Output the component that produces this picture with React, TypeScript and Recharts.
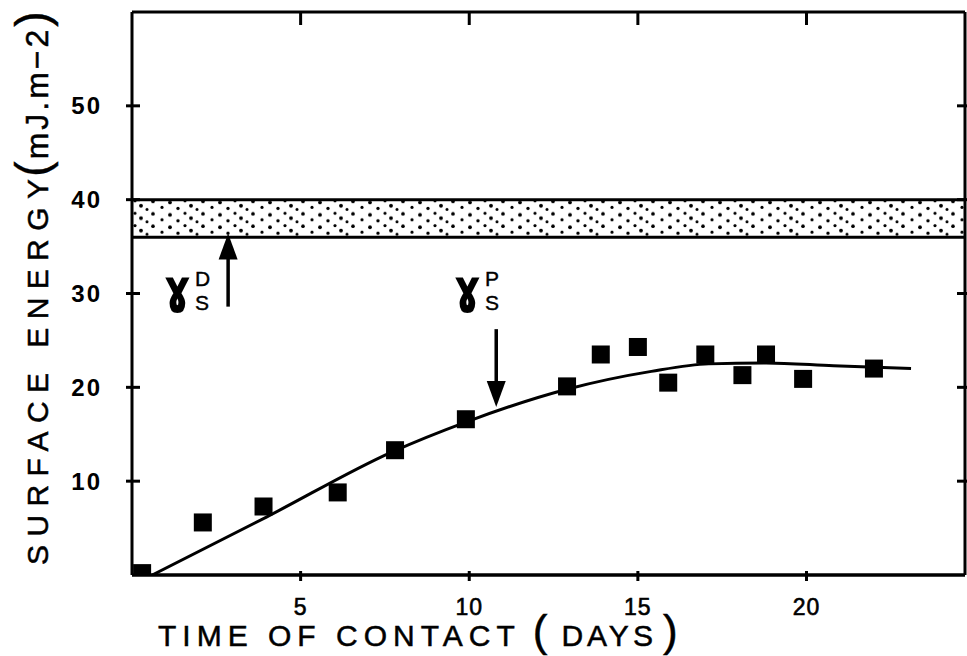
import {
  ComposedChart,
  Line,
  Scatter,
  XAxis,
  YAxis,
  ReferenceArea,
  ReferenceLine,
  ReferenceDot,
} from "recharts";

const xTicks = [5, 10, 15, 20];
const yTicks = [10, 20, 30, 40, 50];
const xMax = 24.7;
const yMax = 60;

// measured squares
const pointDays = [0.3, 2.1, 3.9, 6.1, 7.8, 9.9, 12.9, 13.9, 15.0, 15.9, 17.0, 18.1, 18.8, 19.9, 22.0];
const pointEnergy = [0.2, 5.6, 7.3, 8.8, 13.3, 16.6, 20.1, 23.5, 24.3, 20.5, 23.5, 21.3, 23.5, 20.9, 22.0];

// fitted curve
const fitDays = [0.6, 4.0, 7.7, 9.9, 12.9, 15.4, 17.1, 18.8, 20.8, 23.1];
const fitEnergy = [0, 6.2, 13.1, 16.3, 19.8, 21.7, 22.5, 22.6, 22.3, 22.0];

// dispersive component band
const bandLow = 36;
const bandHigh = 40;

// annotation anchors (data space)
const gammaD = { day: 1.87, energy: 28.2, sup: "D" };
const gammaP = { day: 10.47, energy: 28.2, sup: "P" };
const arrowD = [{ x: 2.85, y: 28.6 }, { x: 2.85, y: 36.4 }];
const arrowP = [{ x: 10.8, y: 26.2 }, { x: 10.8, y: 17.9 }];

const points = pointDays.map((d, i) => ({ day: d, energy: pointEnergy[i] }));
const fit = fitDays.map((d, i) => ({ day: d, energy: fitEnergy[i] }));

// plot box
const W = 967;
const H = 656;
const PLOT_LEFT = 132;
const PLOT_RIGHT = 965;
const PLOT_TOP = 12;
const PLOT_BOTTOM = 575;

const FONT = "'Liberation Sans', Arial, sans-serif";

const BottomTick = ({ x, y, payload }: any) => (
  <g>
    <line x1={x} y1={y} x2={x} y2={y - 10} stroke="#000" strokeWidth={3} />
    <text
      x={x}
      y={y + 34}
      textAnchor="middle"
      fontSize={23}
      letterSpacing={1}
      fontFamily={FONT}
      fill="#000"
      stroke="#000"
      strokeWidth={0.6}
    >
      {payload.value}
    </text>
  </g>
);

const LeftTick = ({ x, y, payload }: any) => (
  <g>
    <line x1={x} y1={y} x2={x + 14} y2={y} stroke="#000" strokeWidth={3} />
    <text
      x={x - 24}
      y={y}
      dy="0.36em"
      textAnchor="end"
      fontSize={24}
      fontWeight="bold"
      letterSpacing={2}
      fontFamily={FONT}
      fill="#000"
    >
      {payload.value}
    </text>
  </g>
);

const RightTick = ({ x, y }: any) => (
  <line x1={x} y1={y} x2={x - 14} y2={y} stroke="#000" strokeWidth={3} />
);

const Square = ({ cx, cy }: any) => (
  <rect x={cx - 9} y={cy - 9} width={18} height={18} fill="#000" />
);

const Arrow = ({ x1, y1, x2, y2 }: any) => {
  const dir = Math.sign(y2 - y1);
  return (
    <g>
      <line x1={x1} y1={y1} x2={x2} y2={y2 - dir * 20} stroke="#000" strokeWidth={3.5} />
      <polygon
        points={`${x2},${y2} ${x2 - 9.5},${y2 - dir * 26} ${x2 + 9.5},${y2 - dir * 26}`}
        fill="#000"
      />
    </g>
  );
};

const gammaShape = (sup: string) => ({ cx, cy }: any) => (
  <g>
    <text
      transform={`translate(${cx - 5},${cy + 2}) scale(0.85,1.3)`}
      textAnchor="end"
      fontSize={48}
      fontWeight="bold"
      fontFamily="'DejaVu Sans', sans-serif"
      fill="#000"
    >
      ɤ
    </text>
    <text x={cx} y={cy - 24} fontSize={21} fontFamily={FONT} fill="#000" stroke="#000" strokeWidth={0.4}>
      {sup}
    </text>
    <text x={cx} y={cy} fontSize={21} fontFamily={FONT} fill="#000" stroke="#000" strokeWidth={0.4}>
      S
    </text>
  </g>
);

export default function App() {
  const topTickX = (t: number) => PLOT_LEFT + (t / xMax) * (PLOT_RIGHT - PLOT_LEFT);
  return (
    <div style={{ position: "absolute", left: 0, top: 0, width: W, height: H, background: "#fff" }}>
      <svg width={0} height={0} style={{ position: "absolute" }}>
        <defs>
          <pattern id="stipple" width="50" height="12.4" patternUnits="userSpaceOnUse">
            <circle cx="3" cy="3" r="1.8" fill="#000" />
            <circle cx="12" cy="9" r="1.6" fill="#000" />
            <circle cx="20" cy="4" r="1.9" fill="#000" />
            <circle cx="28" cy="10" r="1.7" fill="#000" />
            <circle cx="35" cy="2.5" r="1.6" fill="#000" />
            <circle cx="41" cy="7.5" r="1.9" fill="#000" />
            <circle cx="47" cy="11" r="1.5" fill="#000" />
          </pattern>
        </defs>
      </svg>
      <ComposedChart width={W} height={H} margin={{ top: PLOT_TOP, right: 0, bottom: 0, left: 0 }}>
        <XAxis
          xAxisId="b"
          type="number"
          dataKey="day"
          domain={[0, xMax]}
          ticks={xTicks}
          interval={0}
          height={H - PLOT_BOTTOM}
          tickLine={false}
          tickMargin={0}
          tick={<BottomTick />}
          axisLine={{ stroke: "#000", strokeWidth: 3.5 }}
          allowDataOverflow
        />
        <YAxis
          yAxisId="l"
          type="number"
          domain={[0, yMax]}
          ticks={yTicks}
          interval={0}
          width={PLOT_LEFT}
          tickLine={false}
          tickMargin={0}
          tick={<LeftTick />}
          axisLine={{ stroke: "#000", strokeWidth: 3 }}
          allowDataOverflow
        />
        <YAxis
          yAxisId="r"
          orientation="right"
          type="number"
          domain={[0, yMax]}
          ticks={yTicks}
          interval={0}
          width={W - PLOT_RIGHT}
          tickLine={false}
          tickMargin={0}
          tick={<RightTick />}
          axisLine={{ stroke: "#000", strokeWidth: 3 }}
          allowDataOverflow
        />
        <ReferenceArea
          xAxisId="b"
          yAxisId="l"
          y1={bandLow}
          y2={bandHigh}
          fill="url(#stipple)"
          fillOpacity={1}
          stroke="none"
        />
        <ReferenceLine xAxisId="b" yAxisId="l" y={bandLow} stroke="#000" strokeWidth={3} />
        <ReferenceLine xAxisId="b" yAxisId="l" y={bandHigh} stroke="#000" strokeWidth={3} />
        <Line
          xAxisId="b"
          yAxisId="l"
          data={fit}
          dataKey="energy"
          type="monotone"
          stroke="#000"
          strokeWidth={3}
          dot={false}
          isAnimationActive={false}
        />
        <Scatter
          xAxisId="b"
          yAxisId="l"
          data={points}
          dataKey="energy"
          shape={<Square />}
          isAnimationActive={false}
        />
        <ReferenceLine xAxisId="b" yAxisId="l" segment={arrowD} shape={<Arrow />} />
        <ReferenceLine xAxisId="b" yAxisId="l" segment={arrowP} shape={<Arrow />} />
        <ReferenceDot
          xAxisId="b"
          yAxisId="l"
          x={gammaD.day}
          y={gammaD.energy}
          r={0}
          shape={gammaShape(gammaD.sup)}
        />
        <ReferenceDot
          xAxisId="b"
          yAxisId="l"
          x={gammaP.day}
          y={gammaP.energy}
          r={0}
          shape={gammaShape(gammaP.sup)}
        />
      </ComposedChart>
      <svg
        width={W}
        height={H}
        style={{ position: "absolute", left: 0, top: 0, pointerEvents: "none" }}
        fontFamily={FONT}
        fill="#000"
        stroke="#000"
        strokeWidth={0.5}
      >
        {/* top edge of the frame with its inward ticks */}
        <line x1={PLOT_LEFT} y1={PLOT_TOP} x2={PLOT_RIGHT} y2={PLOT_TOP} stroke="#000" strokeWidth={3} />
        {xTicks.map((t) => (
          <line
            key={t}
            x1={topTickX(t)}
            y1={PLOT_TOP}
            x2={topTickX(t)}
            y2={PLOT_TOP + 13}
            stroke="#000"
            strokeWidth={3}
          />
        ))}
        <text transform="translate(48,565) rotate(-90)">
          <tspan fontSize={30} letterSpacing={8.4}>SURFACE ENERGY</tspan>
          <tspan fontSize={46} dx={-6}>(</tspan>
          <tspan fontSize={32} letterSpacing={3} dx={2}>mJ.m−2</tspan>
          <tspan fontSize={46} dx={0}>)</tspan>
        </text>
        <text x={158} y={646}>
          <tspan fontSize={30} letterSpacing={6}>TIME OF CONTACT</tspan>
          <tspan fontSize={44} dx={12}>(</tspan>
          <tspan fontSize={30} letterSpacing={4} dx={14}>DAYS</tspan>
          <tspan fontSize={44} dx={6}>)</tspan>
        </text>
      </svg>
    </div>
  );
}
